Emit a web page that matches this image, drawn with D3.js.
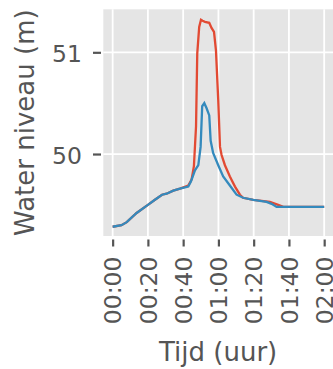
<!DOCTYPE html>
<html>
<head>
<meta charset="utf-8">
<script src="https://cdn.jsdelivr.net/npm/d3@7"></script>
<style>
  body { margin: 0; background: #fff; }
  text { font-family: "DejaVu Sans", sans-serif; }
</style>
</head>
<body>
<svg id="chart" width="333" height="369"></svg>
<script>
// data: minutes since start, water level (m)
const redT = [0, 5, 8, 13.6, 20, 24, 28, 30.6, 34.4, 38.2, 42.9, 44.8, 46.1, 47.3, 48, 49.1, 50.1, 51, 52.4, 54.8, 56.1, 57.5, 58.6, 59.9, 60.9, 61.8, 63.7, 66.5, 69.4, 72.2, 74, 79.8, 89.2, 93.9, 96.8, 100, 120];
const redH = [49.285, 49.30, 49.33, 49.42, 49.50, 49.55, 49.60, 49.61, 49.64, 49.66, 49.69, 49.75, 49.88, 50.27, 50.99, 51.25, 51.32, 51.31, 51.30, 51.29, 51.24, 51.20, 51.02, 50.53, 50.07, 49.99, 49.89, 49.78, 49.68, 49.60, 49.57, 49.55, 49.53, 49.50, 49.48, 49.48, 49.48];
const blueT = [0, 5, 8, 13.6, 20, 24, 28, 30.6, 34.4, 38.2, 42.9, 44.4, 46.7, 48.6, 49.9, 50.8, 52, 53.3, 54.8, 55.6, 57, 59.9, 62.7, 66.5, 70.3, 74, 79.8, 87.3, 90.2, 93, 100.5, 120];
const blueH = [49.285, 49.30, 49.33, 49.42, 49.50, 49.55, 49.60, 49.61, 49.64, 49.66, 49.68, 49.73, 49.84, 49.89, 50.07, 50.47, 50.50, 50.45, 50.38, 50.13, 50.01, 49.89, 49.78, 49.69, 49.60, 49.57, 49.55, 49.53, 49.51, 49.48, 49.48, 49.48];
const xTicks = [0, 20, 40, 60, 80, 100, 120];
const yTicks = [50, 51];

const svg = d3.select("#chart");
const plot = { left: 103.3, right: 333, top: 9.3, bottom: 236 };

const x = d3.scaleLinear().domain([-5.3, 125]).range([plot.left, plot.right]);
const y = d3.scaleLinear().domain([49.194, 51.423]).range([plot.bottom, plot.top]);

const fmt = m => d3.format("02")(Math.floor(m / 60)) + ":" + d3.format("02")(m % 60);

// background
svg.append("rect")
    .attr("x", plot.left).attr("y", plot.top)
    .attr("width", plot.right - plot.left).attr("height", plot.bottom - plot.top)
    .attr("fill", "#e5e5e5");

// grid
svg.append("g").selectAll("line")
    .data(xTicks).enter().append("line")
    .attr("x1", d => x(d)).attr("x2", d => x(d))
    .attr("y1", plot.top).attr("y2", plot.bottom)
    .attr("stroke", "#fff").attr("stroke-width", 1.8);
svg.append("g").selectAll("line")
    .data(yTicks).enter().append("line")
    .attr("x1", plot.left).attr("x2", plot.right)
    .attr("y1", d => y(d)).attr("y2", d => y(d))
    .attr("stroke", "#fff").attr("stroke-width", 1.8);

// axes
const xAxis = d3.axisBottom(x).tickValues(xTicks).tickFormat(fmt)
    .tickSize(7).tickPadding(11);
const gx = svg.append("g")
    .attr("transform", `translate(0,${plot.bottom + 3.5})`)
    .call(xAxis);
gx.select(".domain").remove();
gx.selectAll(".tick line").attr("stroke", "#555").attr("stroke-width", 2.2);
gx.selectAll(".tick text")
    .attr("fill", "#555")
    .style("font-size", "23.5px")
    .attr("text-anchor", "end")
    .attr("transform", "rotate(-90)")
    .attr("x", -17).attr("y", 0).attr("dy", "0.35em");

const yAxis = d3.axisLeft(y).tickValues(yTicks).tickFormat(d3.format("d"))
    .tickSize(8).tickPadding(11);
const gy = svg.append("g")
    .attr("transform", `translate(${plot.left - 2.3},0)`)
    .call(yAxis);
gy.select(".domain").remove();
gy.selectAll(".tick line").attr("stroke", "#555").attr("stroke-width", 2.2);
gy.selectAll(".tick text")
    .attr("fill", "#555")
    .style("font-size", "23.5px")
    .attr("dy", "0.4em");

// lines
const line = d3.line().x(d => x(d[0])).y(d => y(d[1]));
svg.append("path")
    .datum(d3.zip(redT, redH))
    .attr("d", line)
    .attr("fill", "none").attr("stroke", "#E24A33").attr("stroke-width", 2.3);
svg.append("path")
    .datum(d3.zip(blueT, blueH))
    .attr("d", line)
    .attr("fill", "none").attr("stroke", "#348ABD").attr("stroke-width", 2.3);

// labels
svg.append("text")
    .attr("x", (plot.left + plot.right) / 2).attr("y", 361)
    .attr("text-anchor", "middle")
    .attr("fill", "#555")
    .style("font-size", "26px")
    .text("Tijd (uur)");
svg.append("text")
    .attr("transform", `translate(34,${(plot.top + plot.bottom) / 2}) rotate(-90)`)
    .attr("text-anchor", "middle")
    .attr("fill", "#555")
    .style("font-size", "26px")
    .text("Water niveau (m)");
</script>
</body>
</html>
